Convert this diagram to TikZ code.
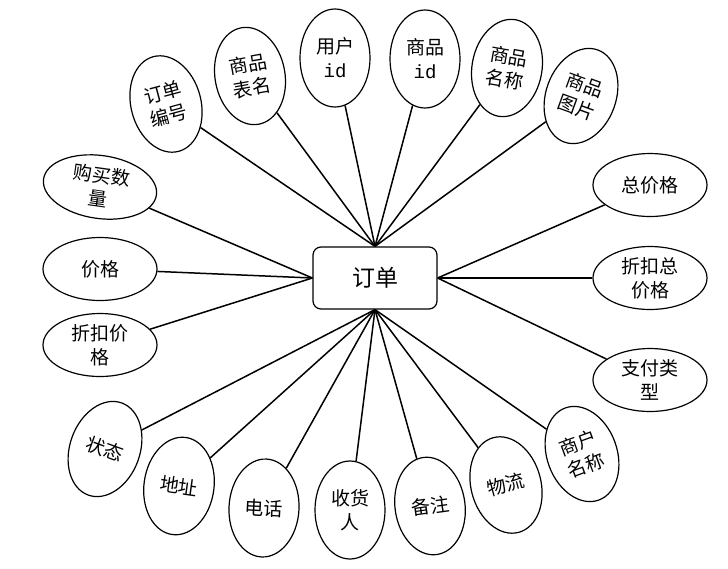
\documentclass[tikz,border=0pt]{standalone}
\usepackage{fontspec}
\newfontfamily\cjk{Noto Sans CJK SC}
\newfontfamily\idfont{Liberation Mono}
\usetikzlibrary{shapes.geometric}

\begin{document}
\begin{tikzpicture}[x=1pt,y=-1pt,
  attr/.style={draw,ellipse,line width=1.2pt,inner sep=0pt,minimum width=70pt,
    minimum height=98pt,align=center,font=\cjk\fontsize{19}{24}\selectfont},
  wattr/.style={attr,minimum width=114pt,minimum height=63pt},
  entity/.style={draw,rounded corners=8pt,line width=1.2pt,minimum width=124pt,
    minimum height=62pt,font=\cjk\fontsize{23}{26}\selectfont},
  link/.style={line width=1.5pt}]
  \useasboundingbox (0,0) rectangle (728,568);
  \node[entity] (order) at (375,278) {订单};
  % attributes above
  \node[attr,rotate=15] (ddbh) at (166,104) {订单\\编号};
  \node[attr,rotate=10] (spbm) at (250,76) {商品\\表名};
  \node[attr] (yhid) at (335,58) {用户\\{\idfont id}};
  \node[attr] (spid) at (425,59) {商品\\{\idfont id}};
  \node[attr,rotate=-10] (spmc) at (507,68) {商品\\名称};
  \node[attr,rotate=-20] (sptp) at (581,96) {商品\\图片};
  % left and right
  \node[wattr,rotate=-8] (gmsl) at (100,187) {购买数\\量};
  \node[wattr] (jg) at (100,269) {价格};
  \node[wattr] (zkjg) at (100,345) {折扣价\\格};
  \node[wattr] (zjg) at (650,185) {总价格};
  \node[wattr] (zkzjg) at (650,278) {折扣总\\价格};
  \node[wattr] (zflx) at (650,380) {支付类\\型};
  % attributes below
  \node[attr,rotate=-20] (zt) at (105,449) {状态};
  \node[attr,rotate=-8] (dz) at (179,486) {地址};
  \node[attr,rotate=-3] (dh) at (264,508) {电话};
  \node[attr] (shr) at (350,510) {收货\\人};
  \node[attr,rotate=8] (bz) at (430,506) {备注};
  \node[attr,rotate=15] (wl) at (506,485) {物流};
  \node[attr,rotate=20] (shmc) at (582,454) {商户\\名称};
  \foreach \a in {ddbh,spbm,yhid,spid,spmc,sptp}
    \draw[link] (\a) -- (order.north);
  \foreach \a in {gmsl,jg,zkjg}
    \draw[link] (\a) -- (order.west);
  \foreach \a in {zjg,zkzjg,zflx}
    \draw[link] (\a) -- (order.east);
  \foreach \a in {zt,dz,dh,shr,bz,wl,shmc}
    \draw[link] (\a) -- (order.south);
\end{tikzpicture}
\end{document}
